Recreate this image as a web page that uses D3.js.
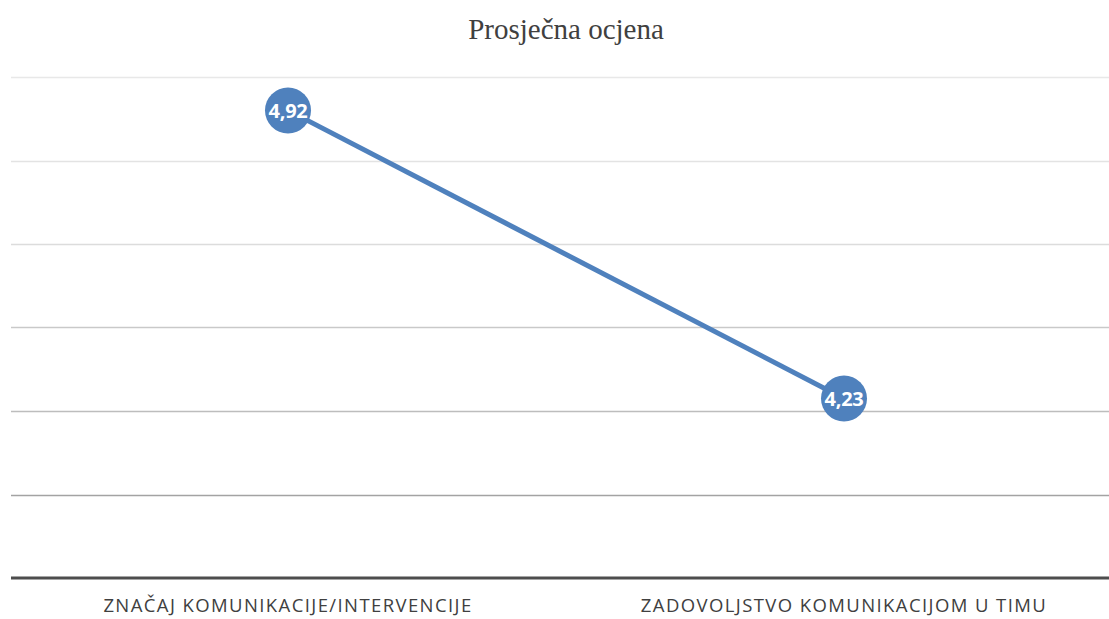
<!DOCTYPE html>
<html lang="hr">
<head>
<meta charset="UTF-8">
<title>Prosječna ocjena</title>
<script src="https://d3js.org/d3.v7.min.js"></script>
<style>
  body { margin: 0; background: #fff; }
  svg { display: block; }
</style>
</head>
<body>
<svg width="1109" height="619"></svg>
<script>
const categories = ["ZNAČAJ KOMUNIKACIJE/INTERVENCIJE", "ZADOVOLJSTVO KOMUNIKACIJOM U TIMU"];
const values = [4.92, 4.23];
const labels = ["4,92", "4,23"];
const yTicks = [3.8, 4.0, 4.2, 4.4, 4.6, 4.8, 5.0];
// gridlines get darker towards the bottom in the original
const gridColors = ["#a3a3a3", "#bdbdbd", "#c9c9c9", "#dcdcdc", "#e3e3e3", "#e8e8e8"];

const svg = d3.select("svg");

const x = d3.scaleBand().domain(categories).range([10, 1122]);
const y = d3.scaleLinear().domain([3.8, 5.0]).range([578, 77]);

// title
svg.append("text")
    .attr("x", 566).attr("y", 39)
    .attr("text-anchor", "middle")
    .style("font-family", "'Liberation Serif', 'Times New Roman', serif")
    .style("font-size", "29px")
    .style("fill", "#404040")
    .text("Prosječna ocjena");

// gridlines
svg.selectAll(".grid")
  .data(yTicks.slice(1))
  .enter().append("line")
    .attr("class", "grid")
    .attr("x1", 11).attr("x2", 1109)
    .attr("y1", d => Math.round(y(d)) + 0.5)
    .attr("y2", d => Math.round(y(d)) + 0.5)
    .style("stroke", (d, i) => gridColors[i])
    .style("stroke-width", 1.5);

// x axis line
svg.append("line")
    .attr("x1", 11).attr("x2", 1109)
    .attr("y1", y(3.8)).attr("y2", y(3.8))
    .style("stroke", "#4d4d4d")
    .style("stroke-width", 3);

// category labels
svg.selectAll(".cat")
  .data(categories)
  .enter().append("text")
    .attr("class", "cat")
    .attr("x", d => x(d) + x.bandwidth() / 2)
    .attr("y", 612)
    .attr("text-anchor", "middle")
    .style("font-family", "'Open Sans', 'Noto Sans', sans-serif")
    .style("font-size", "18.5px")
    .style("letter-spacing", "1.4px")
    .style("fill", "#404040")
    .text(d => d);

const pts = categories.map((c, i) => ({cat: c, v: values[i], label: labels[i]}));

// series line
svg.append("path")
    .datum(pts)
    .attr("d", d3.line()
        .x(d => x(d.cat) + x.bandwidth() / 2)
        .y(d => y(d.v)))
    .style("fill", "none")
    .style("stroke", "#4f81bd")
    .style("stroke-width", 5);

const mk = svg.selectAll(".pt")
  .data(pts)
  .enter().append("g")
    .attr("class", "pt")
    .attr("transform", d => `translate(${x(d.cat) + x.bandwidth() / 2},${y(d.v)})`);

mk.append("circle")
    .attr("r", 23)
    .style("fill", "#4f81bd");

mk.append("text")
    .attr("dy", "0.36em")
    .attr("text-anchor", "middle")
    .style("font-family", "'Open Sans', 'Noto Sans', sans-serif")
    .style("font-weight", "700")
    .style("font-size", "20px")
    .style("letter-spacing", "-0.3px")
    .style("fill", "#fff")
    .text(d => d.label);
</script>
</body>
</html>
